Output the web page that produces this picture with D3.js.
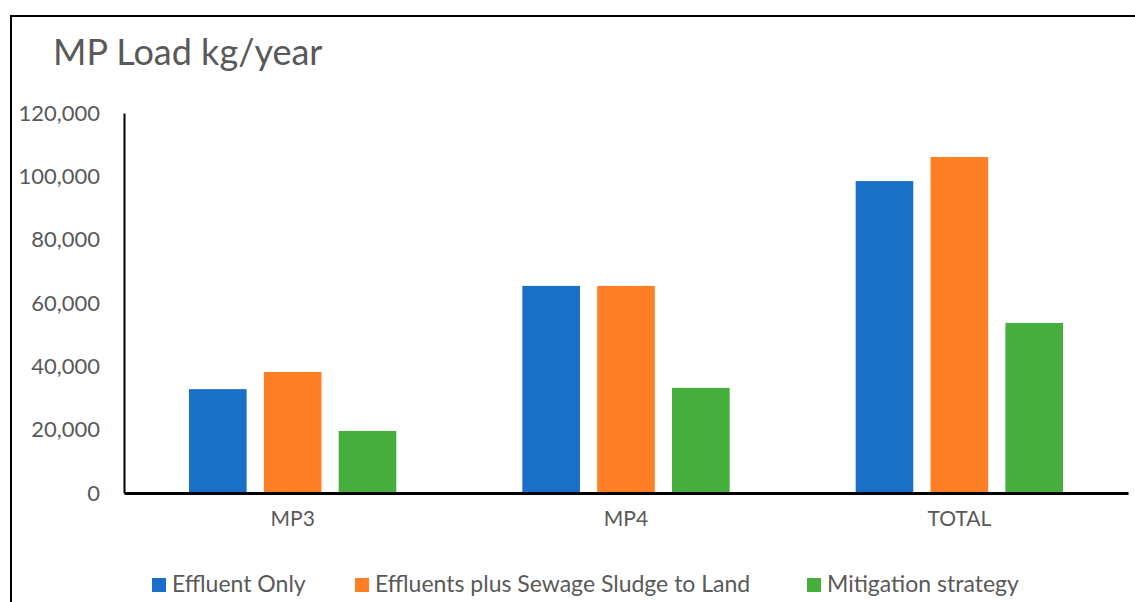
<!DOCTYPE html>
<html>
<head>
<meta charset="utf-8">
<script src="https://cdn.jsdelivr.net/npm/d3@7"></script>
<style>
  html, body { margin: 0; padding: 0; background: #fff; }
  svg { display: block; }
  text { font-family: Lato, "Open Sans", sans-serif; fill: #595959; }
</style>
</head>
<body>
<svg id="chart" width="1135" height="602"></svg>
<script>
// MP load per scenario, kg/year
const categories = ["MP3", "MP4", "TOTAL"];
const seriesNames = ["Effluent Only", "Effluents plus Sewage Sludge to Land", "Mitigation strategy"];
const effluentOnly = [32800, 65400, 98500];
const effluentsPlusSludge = [38200, 65400, 106100];
const mitigation = [19600, 33200, 53700];
const yTicks = [0, 20000, 40000, 60000, 80000, 100000, 120000];
const seriesColors = ["#1a70c8", "#fe7f25", "#46ae3c"];

const series = [effluentOnly, effluentsPlusSludge, mitigation];

const W = 1135, H = 602;
const plot = { left: 124, right: 1128, top: 113, bottom: 493 };

const svg = d3.select("#chart");

// Outer frame (left and top edges)
svg.append("path")
  .attr("d", `M11,${H} L11,16 L${W},16`)
  .attr("fill", "none").attr("stroke", "#000").attr("stroke-width", 2);

// Title
svg.append("text")
  .attr("x", 53).attr("y", 65)
  .style("font-size", "36px")
  .text("MP Load kg/year");

const y = d3.scaleLinear().domain([0, 120000]).range([plot.bottom, plot.top]);
const x0 = d3.scaleBand().domain(categories)
  .range([plot.left, plot.right]).paddingInner(0.378).paddingOuter(0.195);
const x1 = d3.scaleBand().domain(d3.range(series.length))
  .range([0, x0.bandwidth()]).paddingInner(0.23);

// Bars
categories.forEach((cat, ci) => {
  svg.append("g")
    .attr("transform", `translate(${x0(cat)},0)`)
    .selectAll("rect")
    .data(series.map((s, si) => ({ si, v: s[ci] })))
    .join("rect")
      .attr("x", d => x1(d.si))
      .attr("width", x1.bandwidth())
      .attr("y", d => y(d.v))
      .attr("height", d => y(0) - y(d.v))
      .attr("fill", d => seriesColors[d.si]);
});

// Y axis
const yAxis = svg.append("g")
  .attr("transform", `translate(${plot.left},0)`)
  .call(d3.axisLeft(y).tickValues(yTicks).tickSize(0).tickPadding(24)
    .tickFormat(d3.format(",")));
yAxis.select(".domain").attr("stroke", "#000").attr("stroke-width", 2);
yAxis.selectAll("text").style("font-size", "22px").attr("fill", "#595959");

// X axis
const xAxis = svg.append("g")
  .attr("transform", `translate(0,${plot.bottom})`)
  .call(d3.axisBottom(x0).tickSize(0).tickPadding(18));
xAxis.select(".domain").attr("stroke", "#000").attr("stroke-width", 3);
xAxis.selectAll("text").style("font-size", "21px").attr("fill", "#595959");

// Legend
const legendX = [152, 355, 807];
const legend = svg.append("g");
seriesNames.forEach((name, i) => {
  legend.append("rect")
    .attr("x", legendX[i]).attr("y", 578)
    .attr("width", 14).attr("height", 14)
    .attr("fill", seriesColors[i]);
  legend.append("text")
    .attr("x", legendX[i] + 20).attr("y", 592)
    .style("font-size", "23px")
    .text(name);
});
</script>
</body>
</html>
